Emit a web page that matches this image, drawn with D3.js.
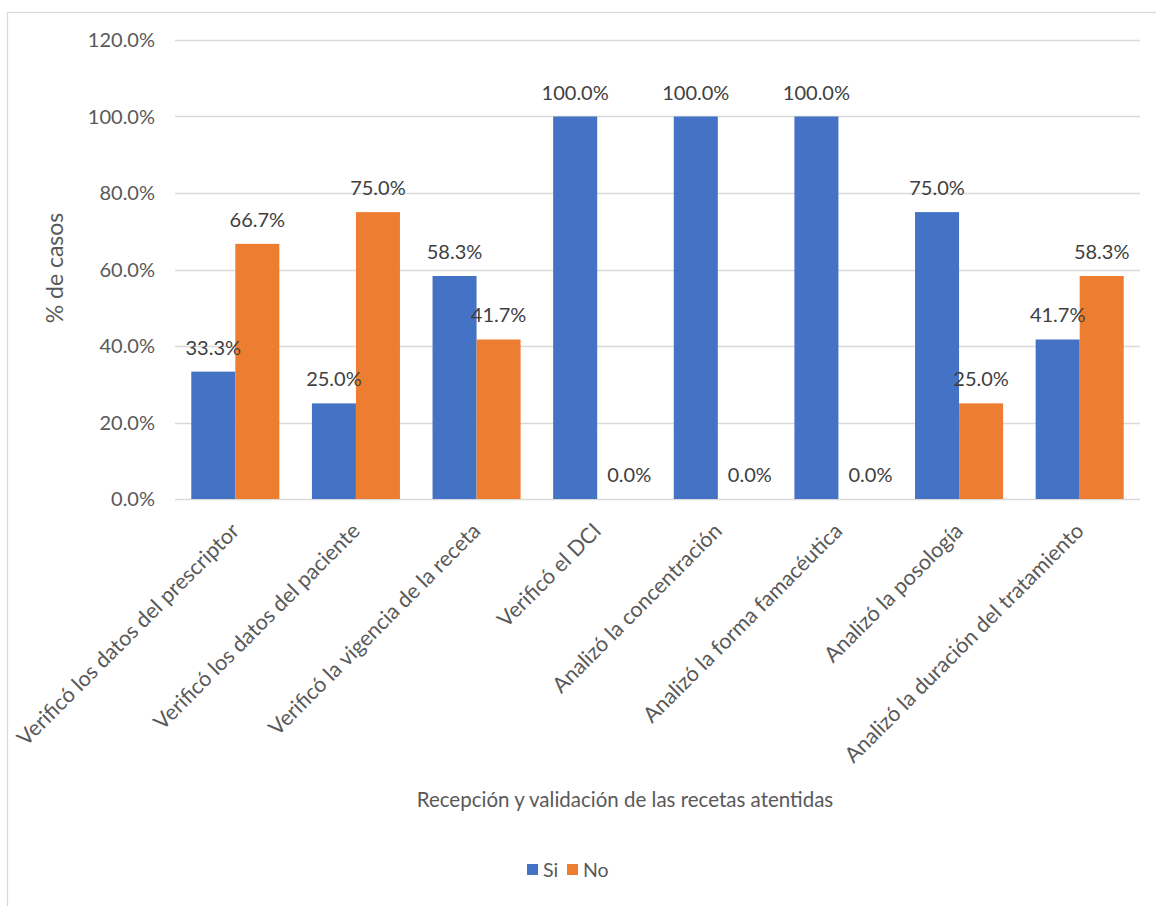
<!DOCTYPE html>
<html><head><meta charset="utf-8">
<script src="https://cdn.jsdelivr.net/npm/d3@7/dist/d3.min.js"></script>
<style>body{margin:0;background:#fff;} text{font-family:Lato,"Open Sans",sans-serif;}</style>
</head><body>
<svg id="c" width="1156" height="906"></svg>
<script>
const categories = ["Verificó los datos del prescriptor","Verificó los datos del paciente","Verificó la vigencia de la receta","Verificó el DCI","Analizó la concentración","Analizó la forma famacéutica","Analizó la posología","Analizó la duración del tratamiento"];
const seriesNames = ["Si","No"];
const siValues = [33.3,25.0,58.3,100.0,100.0,100.0,75.0,41.7];
const noValues = [66.7,75.0,41.7,0.0,0.0,0.0,25.0,58.3];
const yTicks = [0,20,40,60,80,100,120];
const colors = ["#4472C4","#ED7D31"];

const svg = d3.select("#c");
svg.append("rect").attr("x",7.5).attr("y",12.5).attr("width",1200).attr("height",1000)
  .attr("fill","#fff").attr("stroke","#d9d9d9").attr("stroke-width",1.2);

const L=175,R=1140,T=40,B=499;
const x = d3.scaleBand().domain(categories).range([L,R]).paddingInner(0.27).paddingOuter(0.135);
const xs = d3.scaleBand().domain(seriesNames).range([0,x.bandwidth()]);
const y = d3.scaleLinear().domain([0,120]).range([B,T]);

// gridlines
svg.append("g").selectAll("line").data(yTicks).join("line")
  .attr("x1",L).attr("x2",R).attr("y1",d=>Math.round(y(d))+0.5).attr("y2",d=>Math.round(y(d))+0.5)
  .attr("stroke","#d9d9d9").attr("stroke-width",1.3);

// y tick labels
svg.append("g").selectAll("text").data(yTicks).join("text")
  .attr("x",155).attr("y",d=>y(d)).attr("dy","0.35em").attr("text-anchor","end")
  .attr("font-size",20).attr("fill","#595959").text(d=>d.toFixed(1)+"%");

const data = categories.map((c,i)=>({c, vals:[siValues[i],noValues[i]]}));
const g = svg.append("g").selectAll("g").data(data).join("g").attr("transform",d=>`translate(${x(d.c)},0)`);
g.selectAll("rect").data(d=>d.vals.map((v,k)=>({v,k}))).join("rect")
  .attr("x",d=>xs(seriesNames[d.k])).attr("width",xs.bandwidth())
  .attr("y",d=>y(d.v)).attr("height",d=>B-y(d.v)).attr("fill",d=>colors[d.k]);
g.selectAll("text").data(d=>d.vals.map((v,k)=>({v,k}))).join("text")
  .attr("x",d=>xs(seriesNames[d.k])+xs.bandwidth()/2+(d.v===0?10:0))
  .attr("y",d=>y(d.v)-17).attr("text-anchor","middle")
  .attr("font-size",20).attr("fill","#404040").text(d=>d.v.toFixed(1)+"%");

// x tick labels
svg.append("g").selectAll("text").data(categories).join("text")
  .attr("transform",d=>`translate(${x(d)+x.bandwidth()/2},${B+28}) rotate(-45)`)
  .attr("text-anchor","end").attr("dy","0.35em")
  .attr("font-size",21.5).attr("fill","#595959").text(d=>d);

// axis titles
svg.append("text").attr("transform","translate(63,268) rotate(-90)").attr("text-anchor","middle")
  .attr("font-size",23).attr("fill","#595959").text("% de casos");
svg.append("text").attr("x",625).attr("y",807).attr("text-anchor","middle")
  .attr("font-size",20.5).attr("fill","#595959").text("Recepción y validación de las recetas atentidas");

// legend
const leg = svg.append("g").selectAll("g").data(seriesNames).join("g")
  .attr("transform",(d,i)=>`translate(${527+i*40},864)`);
leg.append("rect").attr("width",11).attr("height",11).attr("fill",(d,i)=>colors[i]);
leg.append("text").attr("x",16).attr("y",6).attr("dy","0.35em").attr("font-size",19.5).attr("fill","#595959").text(d=>d);
</script>
</body></html>
